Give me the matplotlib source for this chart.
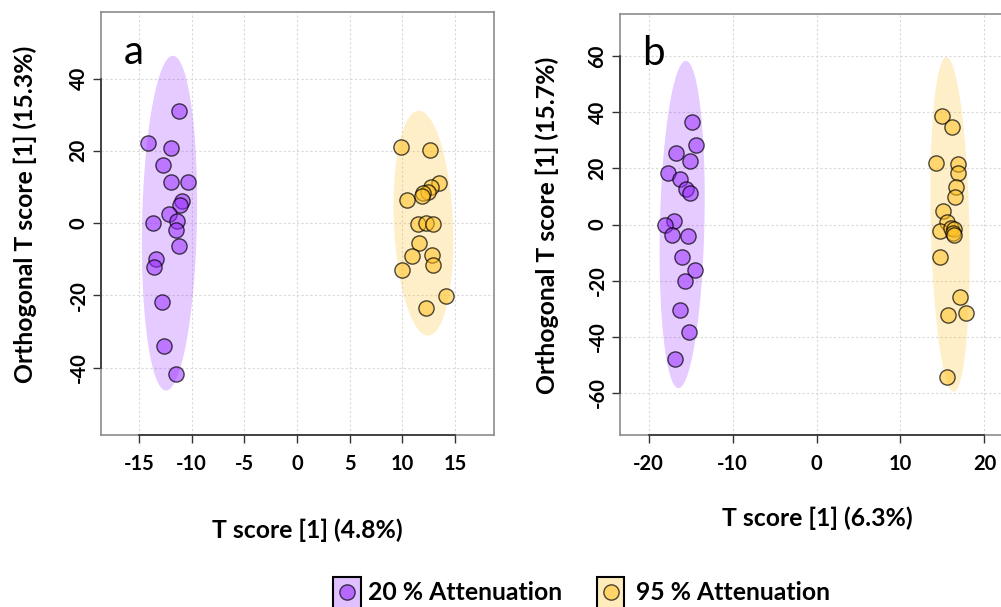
import numpy as np
import matplotlib
matplotlib.use("Agg")
import matplotlib.pyplot as plt
from matplotlib.patches import Rectangle, Polygon
from matplotlib.lines import Line2D
import matplotlib.transforms as mtransforms

# ---------------- data ----------------
# panel a
a_low_x = [-11.2, -14.1, -12.0, -12.7, -12.0, -10.3, -10.9, -11.1, -12.1, -11.4,
           -13.7, -11.5, -11.2, -13.4, -13.6, -12.8, -12.6, -11.5]
a_low_y = [31.1, 22.1, 20.7, 16.2, 11.4, 11.3, 6.1, 5.0, 2.4, 0.5,
           -0.1, -1.8, -6.4, -10.0, -12.0, -21.8, -34.0, -41.7]
a_high_x = [9.9, 12.6, 13.5, 12.7, 12.4, 12.0, 11.9, 10.4, 11.5, 12.2,
            12.9, 11.6, 10.9, 12.8, 12.9, 10.0, 14.1, 12.2]
a_high_y = [21.1, 20.1, 11.0, 10.1, 8.5, 8.3, 7.4, 6.4, -0.2, 0.0,
            -0.2, -5.6, -9.2, -8.9, -11.7, -13.0, -20.2, -23.5]
# panel b
b_low_x = [-14.8, -14.3, -16.7, -15.1, -17.7, -16.2, -15.5, -15.1, -17.0, -18.0,
           -17.2, -15.3, -16.0, -14.5, -15.7, -16.3, -15.2, -16.9]
b_low_y = [36.4, 28.4, 25.3, 22.7, 18.4, 16.2, 12.6, 11.3, 1.4, -0.1,
           -3.8, -4.1, -11.7, -16.3, -20.3, -30.3, -38.4, -47.9]
b_high_x = [15.0, 16.1, 14.2, 16.8, 16.8, 16.6, 16.5, 15.1, 15.5, 14.7,
            16.0, 16.4, 16.2, 16.4, 14.7, 17.1, 15.7, 17.8, 15.5]
b_high_y = [38.7, 34.7, 22.0, 21.7, 18.5, 13.5, 9.8, 4.9, 1.0, -2.4,
            -1.3, -1.6, -2.9, -3.6, -11.7, -25.7, -32.2, -31.4, -54.4]

# ellipses: centre x, centre y, horizontal half-width, top shear, vertical half-height
a_low_ell = [-12.1, 0.0, 2.6, 0.32, 46.3]
a_high_ell = [12.0, 0.0, 2.8, -0.44, 31.1]
b_low_ell = [-16.0, 0.0, 2.65, 0.44, 58.3]
b_high_ell = [15.9, 0.0, 2.3, -0.44, 59.6]

a_xticks = [-15, -10, -5, 0, 5, 10, 15]
a_yticks = [-40, -20, 0, 20, 40]
b_xticks = [-20, -10, 0, 10, 20]
b_yticks = [-60, -40, -20, 0, 20, 40, 60]

xlabel_a = "T score [1] (4.8%)"
ylabel_a = "Orthogonal T score [1] (15.3%)"
xlabel_b = "T score [1] (6.3%)"
ylabel_b = "Orthogonal T score [1] (15.7%)"
legend_labels = ["20 % Attenuation", "95 % Attenuation"]

# ---------------- style ----------------
W, H = 1001, 607
FONT = "Lato"
PURPLE = "#9B30FF"
GOLD = "#FFC125"

fig = plt.figure(figsize=(W / 100, H / 100), dpi=100)


def fbox(left, top, right, bottom):
    return [left / W, 1 - bottom / H, (right - left) / W, (bottom - top) / H]


def fx(px):
    return px / W


def fy(py):
    return 1 - py / H


def ellipse_poly(p, n=200):
    cx, cy, ax_, sx, by = p
    t = np.linspace(0, 2 * np.pi, n)
    return np.column_stack([cx + ax_ * np.cos(t) + sx * np.sin(t), cy + by * np.sin(t)])


def panel(ax, lowx, lowy, highx, highy, ell_low, ell_high, xt, yt, xlim, ylim, letter):
    ax.set_xlim(*xlim)
    ax.set_ylim(*ylim)
    for v in xt:
        ax.axvline(v, color="#d9d9d9", lw=0.8, ls=(0, (2, 2)), zorder=0)
    for v in yt:
        ax.axhline(v, color="#d9d9d9", lw=0.8, ls=(0, (2, 2)), zorder=0)
    ax.add_patch(Polygon(ellipse_poly(ell_low), closed=True, fc=PURPLE, alpha=0.25, ec="none", zorder=1))
    ax.add_patch(Polygon(ellipse_poly(ell_high), closed=True, fc=GOLD, alpha=0.25, ec="none", zorder=1))
    ax.scatter(lowx, lowy, s=120, fc=(0.608, 0.188, 1.0, 0.55), ec=(0, 0, 0, 0.7), lw=1.0, zorder=3)
    ax.scatter(highx, highy, s=120, fc=(1.0, 0.757, 0.145, 0.55), ec=(0, 0, 0, 0.7), lw=1.0, zorder=3)
    ax.set_xticks(xt)
    ax.set_yticks(yt)
    ax.set_xticklabels([str(v) for v in xt], fontfamily=FONT, fontweight="bold", fontsize=14.5)
    ax.set_yticklabels([str(v) for v in yt], fontfamily=FONT, fontweight="bold", fontsize=14.5,
                       rotation=90, va="center")
    ax.tick_params(axis="both", direction="out", length=6, width=1, color="#333333", pad=8)
    ax.tick_params(axis="y", pad=3)
    for s in ax.spines.values():
        s.set_color("#8c8c8c")
        s.set_linewidth(1.2)
    # dark axis lines spanning first to last tick (R style)
    tb = mtransforms.blended_transform_factory(ax.transData, ax.transAxes)
    ax.add_line(Line2D([xt[0], xt[-1]], [0, 0], transform=tb, color="#333333", lw=1.2, clip_on=False, zorder=5))
    tl = mtransforms.blended_transform_factory(ax.transAxes, ax.transData)
    ax.add_line(Line2D([0, 0], [yt[0], yt[-1]], transform=tl, color="#333333", lw=1.2, clip_on=False, zorder=5))
    ax.text(0.057, 0.905, letter, transform=ax.transAxes, fontfamily=FONT, fontsize=29,
            va="center", ha="left", color="black")


ax_a = fig.add_axes(fbox(101, 12, 494, 435))
panel(ax_a, a_low_x, a_low_y, a_high_x, a_high_y, a_low_ell, a_high_ell,
      a_xticks, a_yticks, (-18.6, 18.7), (-58.6, 58.4), "a")

ax_b = fig.add_axes(fbox(620, 14, 1013, 435))
panel(ax_b, b_low_x, b_low_y, b_high_x, b_high_y, b_low_ell, b_high_ell,
      b_xticks, b_yticks, (-23.4, 23.4), (-75.0, 75.0), "b")

lab_kw = dict(fontfamily=FONT, fontweight="bold", fontsize=17.8)
fig.text(fx(307), fy(530), xlabel_a, ha="center", va="center", **lab_kw)
fig.text(fx(25), fy(214), ylabel_a, ha="center", va="center", rotation=90, **lab_kw)
fig.text(fx(817), fy(518), xlabel_b, ha="center", va="center", **lab_kw)
fig.text(fx(547), fy(225), ylabel_b, ha="center", va="center", rotation=90, **lab_kw)

# ---------------- legend ----------------
leg_items = [(333, 361, PURPLE, (0.608, 0.188, 1.0, 0.6), 368),
             (597, 624, GOLD, (1.0, 0.757, 0.145, 0.55), 636)]
for (x0, x1, col, mcol, tx), lab in zip(leg_items, legend_labels):
    r = Rectangle((fx(x0), fy(612)), fx(x1) - fx(x0), fy(577) - fy(612),
                  transform=fig.transFigure, fc=col, alpha=0.3, ec="none")
    fig.patches.append(r)
    r2 = Rectangle((fx(x0), fy(612)), fx(x1) - fx(x0), fy(577) - fy(612),
                   transform=fig.transFigure, fc="none", ec="black", lw=1.5)
    fig.patches.append(r2)
    fig.add_artist(Line2D([fx((x0 + x1) / 2)], [fy(592)], transform=fig.transFigure,
                          marker="o", ms=11, mfc=mcol, mec=(0, 0, 0, 0.7), mew=1.0, ls="none"))
    fig.text(fx(tx), fy(592), lab, ha="left", va="center", **lab_kw)

fig.savefig("out.png", dpi=100)
